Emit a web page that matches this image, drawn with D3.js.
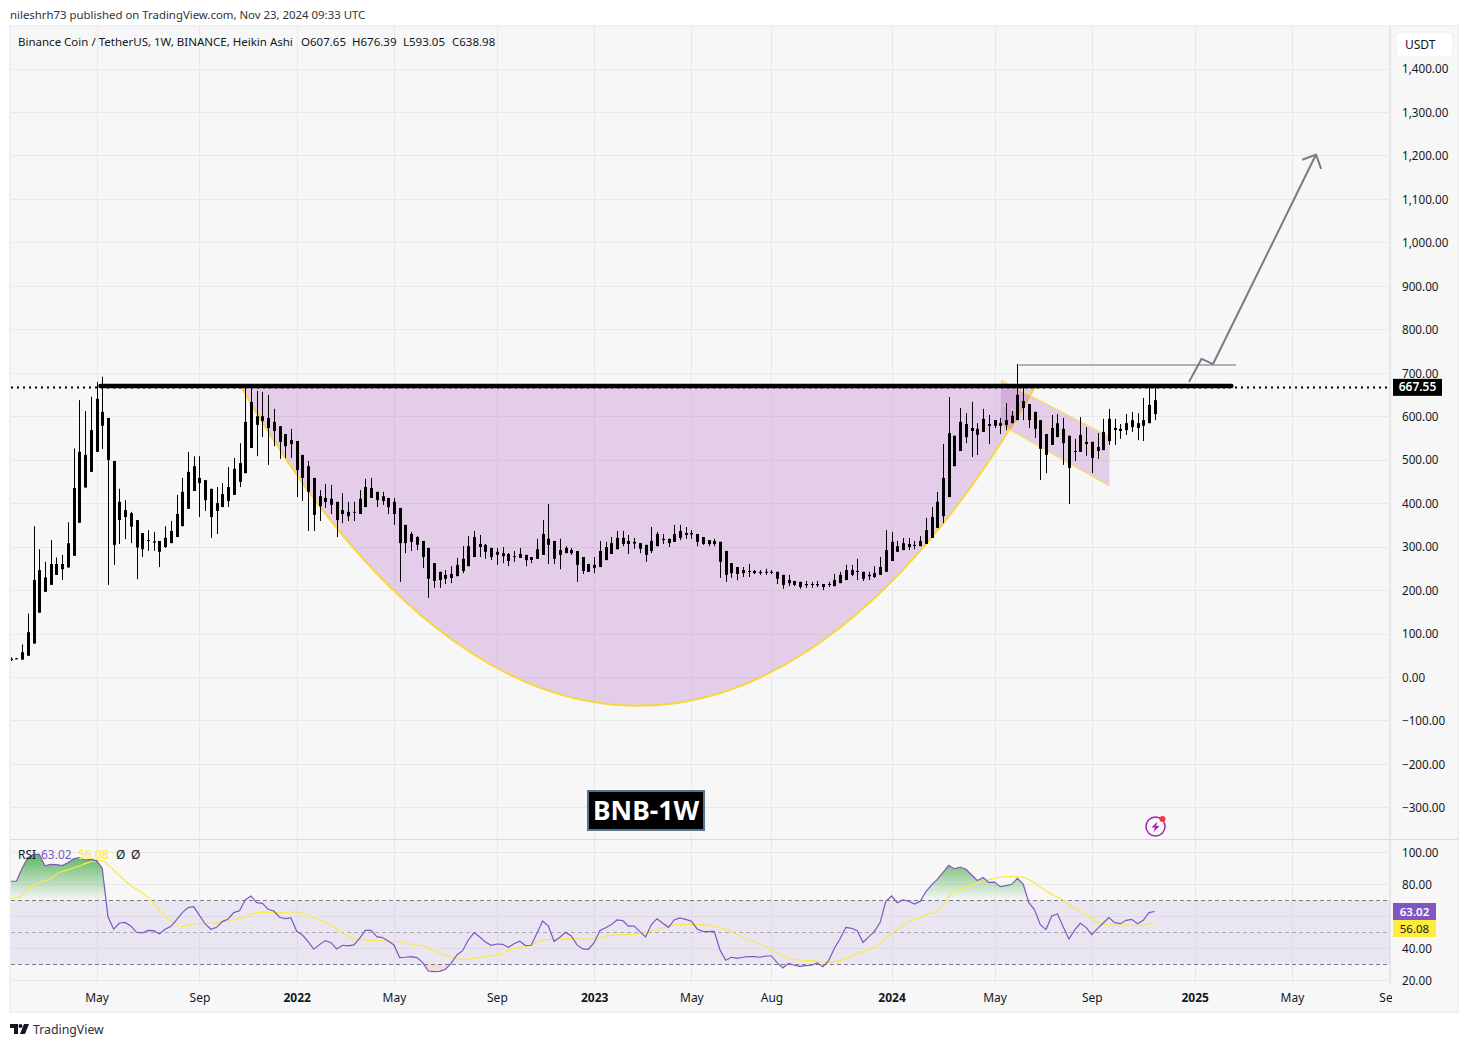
<!DOCTYPE html>
<html>
<head>
<meta charset="utf-8">
<script src="https://cdn.jsdelivr.net/npm/d3@7"></script>
<style>
  html, body { margin: 0; padding: 0; background: #fff; }
  svg { display: block; font-family: "Noto Sans", sans-serif; }
</style>
</head>
<body>
<div id="chart"></div>
<script>
// BNB/USDT weekly Heikin Ashi candles

const highs = [45,44,75,146,347,294,265,315,275,281,
  356,526,637,612,645,679,691,596,497,433,
  407,380,361,331,338,334,313,347,359,419,
  458,518,508,508,453,433,437,446,483,504,
  538,665,664,658,656,649,617,577,559,571,
  543,511,497,458,430,444,442,403,423,403,
  403,430,456,458,426,426,412,412,389,350,
  334,324,313,297,262,242,246,255,274,301,
  324,336,327,306,297,297,299,285,290,297,
  281,276,318,361,398,313,318,301,297,290,
  276,260,276,313,311,322,336,336,327,320,
  308,304,345,334,329,318,350,350,345,338,
  329,322,315,318,311,290,262,253,253,260,
  246,246,249,246,242,235,235,221,219,221,
  219,221,214,219,237,242,258,258,272,242,
  242,255,276,338,334,313,320,320,313,324,
  366,391,426,536,644,555,619,607,633,584,
  617,603,591,596,630,612,720,674,628,610,
  591,559,603,605,596,555,548,598,575,541,
  561,594,617,594,582,605,610,607,642,665,674];

const bodyTops = [42,43,57,103,223,246,229,260,260,260,
  308,435,518,511,568,640,610,596,497,403,
  384,377,361,331,315,312,313,320,336,375,
  426,472,485,458,453,433,400,421,437,479,
  492,587,633,600,600,596,587,577,559,545,
  543,511,485,458,416,412,410,403,384,380,
  380,410,437,435,426,416,412,403,389,350,
  329,322,313,297,262,242,235,237,258,272,
  301,322,306,304,297,288,285,283,278,283,
  281,276,294,329,318,313,292,297,292,290,
  276,260,258,290,299,308,320,320,313,311,
  308,304,313,329,318,318,329,336,331,331,
  329,322,315,313,311,290,262,253,246,244,
  244,242,242,242,242,235,223,221,219,214,
  214,214,214,214,223,235,246,246,244,242,
  235,239,253,292,311,301,308,306,304,313,
  338,368,403,458,561,555,587,582,573,571,
  594,582,591,584,591,601,649,635,628,610,
  591,559,573,584,571,555,520,557,541,541,
  529,564,594,573,571,584,591,584,591,626,637];

const bodyBottoms = [39,41,40,49,77,148,196,212,235,248,
  252,279,355,436,472,518,578,499,304,361,
  368,346,298,294,313,309,288,299,308,322,
  347,387,428,446,407,368,382,391,405,419,
  449,469,527,580,589,573,566,541,531,536,
  476,458,426,373,393,403,396,361,375,370,
  379,375,391,412,407,405,391,375,308,308,
  311,304,276,226,221,223,226,228,232,244,
  255,276,299,288,276,281,278,267,277,274,
  269,269,272,281,304,272,281,285,285,258,
  244,242,251,253,269,283,294,306,306,307,
  295,281,290,301,315,308,311,320,327,328,
  311,306,306,306,265,235,239,237,239,242,
  239,239,241,241,226,212,216,212,207,211,
  212,211,207,212,209,216,223,235,242,226,
  232,230,235,242,267,288,292,299,302,301,
  306,320,343,370,414,485,520,552,566,557,
  564,578,578,578,580,584,591,619,591,571,
  525,511,534,552,538,481,518,518,536,504,
  520,522,543,568,566,568,575,573,578,584,605];

const lows = [37,41,40,49,77,148,196,212,235,223,
  252,279,355,436,472,518,525,212,258,306,
  317,308,225,276,290,290,253,297,308,322,
  347,387,428,368,382,320,329,391,391,419,
  437,469,527,508,552,488,531,502,504,504,
  414,405,336,336,359,389,375,322,354,359,
  359,375,391,412,391,396,375,350,219,285,
  290,292,251,182,205,205,214,216,232,239,
  255,276,276,272,269,258,262,255,265,274,
  255,262,272,281,260,260,248,285,281,219,
  237,242,239,253,269,283,294,301,283,295,
  285,265,285,301,306,299,311,315,318,318,
  301,304,301,301,228,219,228,223,230,230,
  237,235,235,237,214,203,209,209,203,205,
  205,207,200,207,209,216,223,232,223,221,
  223,228,235,242,267,288,292,292,294,301,
  306,320,343,354,414,485,520,538,506,511,
  564,536,573,559,568,584,591,591,573,550,
  453,469,534,552,488,398,497,518,509,469,
  502,522,534,534,548,557,564,545,543,584,591];

// RSI, one value per bar
const rsiValues = [81.9,81.9,90,96.7,98.7,98.7,91.5,92.5,92.3,91.7,
  93.5,96,96.7,95.2,95.6,94.8,90,59.8,51.9,55.8,
  56.2,53.9,50,49.6,51.2,51,49,51.9,53.7,57.7,
  62.3,65.4,66,60.6,55.2,51.9,53.1,56.7,58.3,62.3,
  63.5,70.2,72.7,68.5,68.1,64.4,63.3,59.4,58.5,59,
  50.6,48.3,44.2,39.4,42.3,44.8,43.5,39.6,41.9,41.5,
  42.1,46.2,51.2,51.2,47.3,46.7,44.6,42.1,34.2,34.4,
  34.8,34.2,31.2,25.8,25.4,25.6,26.9,30.6,35.8,38.5,
  45.2,49.8,47.1,44,41.9,42.7,42.5,40.6,42.9,44.4,
  41.7,41.9,49.4,57.1,53.9,44.2,46.9,50,47.7,42.1,
  39.6,39.4,43.5,51,52.9,54.8,57.7,57.3,53.9,53.9,
  50.4,47.1,54.8,58.5,55.6,53.1,57.7,59,58.1,56.9,
  52.1,50.6,50.4,50.6,39,32.5,34.4,33.7,34.4,34.8,
  34.8,34.4,35.2,35.2,31,27.7,30.6,29.4,28.7,29.2,
  29.4,30.8,28.5,32.3,40,46,53.1,52.5,51,43.7,
  47.1,50.4,56.2,69.4,72.7,68.5,70.2,69.4,67.7,69.4,
  75.4,79.6,83.1,87.5,91.9,89.6,90.8,89.4,85.8,82.3,
  84.2,81.2,81.4,78.5,79.2,80,83.7,80.2,68.5,64,
  54.8,51.7,60.2,61.5,53.5,45.8,51.4,55.6,53.1,48.5,
  52.3,55.8,59.2,56,55.4,57.5,58.1,55.4,57.5,62.3,63.02];

// RSI moving average, read at these bars only
const maBars = [0,2,3,5,7,8,10,12,13,15,16,17,19,21,24,26,28,30,31,33,35,37,39,41,43,45,48,50,52,53,
  56,58,60,63,65,67,70,72,74,77,79,80,83,86,87,89,91,93,95,98,100,102,105,108,111,114,117,120,123,125,
  128,132,134,137,140,143,145,148,151,154,157,160,163,164,166,168,170,172,174,176,178,180,182,184,186,188,190,193,195,197,200];
const maValues = [71,72.7,76.9,81,83.7,86.5,89,91.4,92.9,94.8,94.8,92.1,85.4,79.2,71.9,64,57.1,53.5,54.6,55.6,55.6,56.7,57.7,59.8,62.3,62.5,62.5,62.7,61,59,
  54.4,49.4,46.2,45,44.6,44.4,42.7,41.5,38.5,34.4,33.1,33.3,35,36.7,38.7,40.6,42.3,45.2,45.6,46,45.8,45.8,48.3,48.5,49.8,52.7,55,55,53.7,51.9,
  46.9,41,36.9,32.9,32.3,31.2,32.3,36.5,40.6,49,56.4,60.6,66.7,72.3,77,79.6,81.7,83.7,84.8,84.8,83.1,78.1,73.7,70.2,64.8,61.5,56.2,54.4,54.6,54.2,56.08];

// time axis
const timeBars = [15,33,50,67,85,102,119,133,154,172,189,207,224,241];
const timeLabels = ["May","Sep","2022","May","Sep","2023","May","Aug","2024","May","Sep","2025","May","Sep"];
const priceTicks = [-300,-200,-100,0,100,200,300,400,500,600,700,800,900,1000,1100,1200,1300,1400];
const rsiGrid = [20,40,60,80,100];
// 60 sits behind the value labels, so it gets a grid line but no text
const rsiTicks = [20,40,80,100];

// drawings, in [bar, price]
const cupArc = [[40.3,667.55],[83,-310.6],[136.3,-310.6],[179.1,667.55]];
const flagTop = [[173.1,683],[192.1,552]];
const flagBottom = [[173.1,580],[192.1,439.5]];
const flagMiddle = [[173.1,630],[192.1,496]];
const resistance = [[15.7,669.5],[213.4,669.5]];
const breakoutLine = [[176.2,718],[214.2,718]];
const arrowPath = [[206,679],[208.2,732],[210.2,720],[228.2,1202]];
const arrowHead = [[225.8,1190],[228.2,1202],[229.1,1169]];

const lastPrice = 667.55;
const lastRsi = 63.02;
const lastMa = 56.08;

const width = 1468;
const height = 1047;
const font = '"Noto Sans", sans-serif';

const svg = d3.select("#chart").append("svg")
  .attr("width", width)
  .attr("height", height)
  .attr("viewBox", [0, 0, width, height]);

const x = d3.scaleLinear().domain([0, 200]).range([10.7, 1154.7]);
const y = d3.scaleLinear().domain([-300, 1400]).range([807.4, 68.5]);
const yRsi = d3.scaleLinear().domain([20, 100]).range([980.3, 852.3]);

const paneLeft = 11, paneRight = 1390, mainTop = 27, mainBottom = 839, rsiBottom = 984;

// background and frame
svg.append("rect").attr("x", 10).attr("y", 26).attr("width", 1448).attr("height", 986)
  .attr("fill", "#f7f7f7").attr("stroke", "#eff0f4").attr("stroke-width", 2);

const defs = svg.append("defs");
defs.append("clipPath").attr("id", "clip-main").append("rect")
  .attr("x", paneLeft).attr("y", mainTop).attr("width", paneRight - paneLeft).attr("height", mainBottom - mainTop);
defs.append("clipPath").attr("id", "clip-over").append("rect")
  .attr("x", paneLeft).attr("y", yRsi(100)).attr("width", paneRight - paneLeft).attr("height", yRsi(70) - yRsi(100));
defs.append("clipPath").attr("id", "clip-under").append("rect")
  .attr("x", paneLeft).attr("y", yRsi(30)).attr("width", paneRight - paneLeft).attr("height", yRsi(20) - yRsi(30));
defs.append("clipPath").attr("id", "clip-time").append("rect")
  .attr("x", 0).attr("y", rsiBottom).attr("width", 1392).attr("height", 30);

const greenGrad = defs.append("linearGradient").attr("id", "green-fill")
  .attr("gradientUnits", "userSpaceOnUse")
  .attr("x1", 0).attr("x2", 0).attr("y1", yRsi(100)).attr("y2", yRsi(70));
greenGrad.append("stop").attr("offset", 0).attr("stop-color", "#4caf50").attr("stop-opacity", 0.95);
greenGrad.append("stop").attr("offset", 1).attr("stop-color", "#4caf50").attr("stop-opacity", 0);

// grid
const grid = svg.append("g").attr("stroke", "#e9e9ea").attr("stroke-width", 1);
timeBars.forEach(b => {
  grid.append("line").attr("x1", Math.round(x(b)) + 0.5).attr("x2", Math.round(x(b)) + 0.5)
    .attr("y1", mainTop).attr("y2", rsiBottom);
});
priceTicks.forEach(v => {
  grid.append("line").attr("x1", paneLeft).attr("x2", paneRight)
    .attr("y1", Math.round(y(v)) + 0.5).attr("y2", Math.round(y(v)) + 0.5);
});
rsiGrid.forEach(v => {
  grid.append("line").attr("x1", paneLeft).attr("x2", paneRight)
    .attr("y1", Math.round(yRsi(v)) + 0.5).attr("y2", Math.round(yRsi(v)) + 0.5);
});

// main pane
const main = svg.append("g").attr("clip-path", "url(#clip-main)");
const pt = d => [x(d[0]), y(d[1])];

// cup
const cup = d3.path();
cup.moveTo(...pt(cupArc[0]));
cup.bezierCurveTo(...pt(cupArc[1]), ...pt(cupArc[2]), ...pt(cupArc[3]));
main.append("path").attr("d", cup.toString() + "Z")
  .attr("fill", "#9c27b0").attr("fill-opacity", 0.2);
main.append("path").attr("d", cup.toString())
  .attr("fill", "none").attr("stroke", "#f7d63e").attr("stroke-width", 2);

// flag
const flagCorners = [flagTop[0], flagTop[1], flagBottom[1], flagBottom[0]].map(pt);
main.append("polygon").attr("points", flagCorners.join(" "))
  .attr("fill", "#9c27b0").attr("fill-opacity", 0.2);
const segment = d3.line().x(d => x(d[0])).y(d => y(d[1]));
[flagTop, flagBottom].forEach(seg => {
  main.append("path").attr("d", segment(seg)).attr("fill", "none")
    .attr("stroke", "#fbe04a").attr("stroke-width", 1.2);
});
main.append("path").attr("d", segment(flagMiddle)).attr("fill", "none")
  .attr("stroke", "#fbe04a").attr("stroke-width", 1).attr("stroke-dasharray", "6 5");

// candles
const bars = highs.map((h, i) => ({ i, h, top: bodyTops[i], bottom: bodyBottoms[i], l: lows[i] }));
const candles = main.append("g").selectAll("g").data(bars).join("g");
candles.append("rect")
  .attr("x", d => Math.round(x(d.i)))
  .attr("y", d => y(d.h))
  .attr("width", 1)
  .attr("height", d => y(d.l) - y(d.h))
  .attr("fill", "#000");
candles.append("rect")
  .attr("x", d => Math.round(x(d.i)) - 1)
  .attr("y", d => y(d.top))
  .attr("width", 3)
  .attr("height", d => Math.max(1, y(d.bottom) - y(d.top)))
  .attr("fill", "#000");

// last price dotted line
main.append("line").attr("x1", paneLeft).attr("x2", paneRight)
  .attr("y1", Math.round(y(lastPrice)) + 0.5).attr("y2", Math.round(y(lastPrice)) + 0.5)
  .attr("stroke", "#000").attr("stroke-width", 2).attr("stroke-dasharray", "2 4");

// resistance and target drawings
main.append("path").attr("d", segment(resistance)).attr("fill", "none")
  .attr("stroke", "#000").attr("stroke-width", 4.5).attr("stroke-linecap", "round");
main.append("path").attr("d", segment(breakoutLine)).attr("fill", "none")
  .attr("stroke", "#9598a1").attr("stroke-width", 1.5);
[arrowPath, arrowHead].forEach(seg => {
  main.append("path").attr("d", segment(seg)).attr("fill", "none")
    .attr("stroke", "#787b86").attr("stroke-width", 2).attr("stroke-linejoin", "round");
});

// BNB-1W tag
const tag = svg.append("g");
tag.append("rect").attr("x", 588).attr("y", 791).attr("width", 116).attr("height", 39)
  .attr("fill", "#000").attr("stroke", "#5d7286").attr("stroke-width", 2);
tag.append("text").attr("x", 646).attr("y", 820).attr("text-anchor", "middle")
  .attr("font-size", 26.5).attr("font-weight", 700).attr("fill", "#fff")
  .attr("font-family", font).text("BNB-1W");

// bolt icon
const icon = svg.append("g").attr("transform", "translate(1155.5,826.5)");
icon.append("circle").attr("r", 9.5).attr("fill", "none").attr("stroke", "#9c27b0").attr("stroke-width", 1.5);
icon.append("path").attr("d", "M2,-5 L-4,1 L-0.5,1 L-2,5.5 L4,-0.5 L0.5,-0.5 Z").attr("fill", "#9c27b0");
icon.append("circle").attr("cx", 7).attr("cy", -7.5).attr("r", 3).attr("fill", "#f23645");

// RSI pane
svg.append("rect").attr("x", paneLeft).attr("width", paneRight - paneLeft)
  .attr("y", yRsi(70)).attr("height", yRsi(30) - yRsi(70))
  .attr("fill", "#7e57c2").attr("fill-opacity", 0.1);

const rsiBars = rsiValues.map((v, i) => ({ i, v }));
const overFill = d3.area().x(d => x(d.i)).y0(yRsi(70)).y1(d => yRsi(d.v));
svg.append("path").datum(rsiBars).attr("clip-path", "url(#clip-over)")
  .attr("d", overFill).attr("fill", "url(#green-fill)");
const underFill = d3.area().x(d => x(d.i)).y0(yRsi(30)).y1(d => yRsi(d.v));
svg.append("path").datum(rsiBars).attr("clip-path", "url(#clip-under)")
  .attr("d", underFill).attr("fill", "#f23645").attr("fill-opacity", 0.15);

[[70, "#787b86"], [50, "#a9abb3"], [30, "#787b86"]].forEach(([v, c]) => {
  svg.append("line").attr("x1", paneLeft).attr("x2", paneRight)
    .attr("y1", Math.round(yRsi(v)) + 0.5).attr("y2", Math.round(yRsi(v)) + 0.5)
    .attr("stroke", c).attr("stroke-dasharray", "4 3");
});

const maLine = d3.line().x((d, i) => x(maBars[i])).y(d => yRsi(d)).curve(d3.curveMonotoneX);
svg.append("path").datum(maValues).attr("d", maLine)
  .attr("fill", "none").attr("stroke", "#fbe84a").attr("stroke-width", 1.2);
const rsiLine = d3.line().x(d => x(d.i)).y(d => yRsi(d.v));
svg.append("path").datum(rsiBars).attr("d", rsiLine)
  .attr("fill", "none").attr("stroke", "#7e57c2").attr("stroke-width", 1.2);

// pane separators
svg.append("line").attr("x1", 10).attr("x2", 1458).attr("y1", 839.5).attr("y2", 839.5).attr("stroke", "#d9dbe2");
svg.append("line").attr("x1", 1390.5).attr("x2", 1390.5).attr("y1", 27).attr("y2", rsiBottom).attr("stroke", "#e3e4e8");

// axes
const priceAxis = d3.axisRight(y).tickValues(priceTicks).tickSize(0).tickPadding(12)
  .tickFormat(d3.format(",.2f"));
const priceG = svg.append("g").attr("transform", "translate(1390,0.5)").call(priceAxis);
const rsiAxis = d3.axisRight(yRsi).tickValues(rsiTicks).tickSize(0).tickPadding(12)
  .tickFormat(d3.format(".2f"));
const rsiG = svg.append("g").attr("transform", "translate(1390,0)").call(rsiAxis);
[priceG, rsiG].forEach(g => {
  g.select(".domain").remove();
  g.selectAll("text").attr("font-size", 11.7).attr("fill", "#131722").attr("font-family", font);
});

const timeAxis = d3.axisBottom(x).tickValues(timeBars).tickSize(0).tickPadding(0)
  .tickFormat((d, i) => timeLabels[i]);
const timeG = svg.append("g").attr("clip-path", "url(#clip-time)")
  .append("g").attr("transform", "translate(0,993)").call(timeAxis);
timeG.select(".domain").remove();
timeG.selectAll("text").attr("font-size", 12).attr("fill", "#131722").attr("font-family", font)
  .attr("font-weight", (d, i) => /^\d/.test(timeLabels[i]) ? 700 : 400);

// value labels on the right
svg.append("rect").attr("x", 1393).attr("y", y(lastPrice) - 8).attr("width", 49).attr("height", 17).attr("fill", "#000");
svg.append("text").attr("x", 1417.5).attr("y", y(lastPrice) + 4.5).attr("text-anchor", "middle")
  .attr("font-size", 12).attr("font-weight", 600).attr("fill", "#fff").attr("font-family", font)
  .text(d3.format(".2f")(lastPrice));

const rsiLabels = [[lastRsi, 903, "#7e57c2", "#fff", 600], [lastMa, 920, "#ffeb3b", "#131722", 400]];
rsiLabels.forEach(([v, top, bg, fg, weight]) => {
  svg.append("rect").attr("x", 1393).attr("y", top).attr("width", 43).attr("height", 17).attr("fill", bg);
  svg.append("text").attr("x", 1414.5).attr("y", top + 12.5).attr("text-anchor", "middle")
    .attr("font-size", 11.5).attr("font-weight", weight).attr("fill", fg).attr("font-family", font)
    .text(d3.format(".2f")(v));
});

// USDT box
svg.append("rect").attr("x", 1396).attr("y", 32).attr("width", 57).attr("height", 25).attr("rx", 4)
  .attr("fill", "#fff").attr("stroke", "#eceef2");
svg.append("text").attr("x", 1405).attr("y", 49).attr("font-size", 12).attr("fill", "#131722")
  .attr("font-family", font).text("USDT");

// text rows
const label = (tx, ty, text, fill, size) => svg.append("text").attr("x", tx).attr("y", ty)
  .attr("font-size", size || 12).attr("fill", fill || "#131722").attr("font-family", font).text(text);

label(10, 19, "nileshrh73 published on TradingView.com, Nov 23, 2024 09:33 UTC", "#333", 11.4);
label(18, 46, "Binance Coin / TetherUS, 1W, BINANCE, Heikin Ashi", "#131722", 11.5);
label(301, 46, "O607.65", "#131722", 11.5);
label(352, 46, "H676.39", "#131722", 11.5);
label(403, 46, "L593.05", "#131722", 11.5);
label(452, 46, "C638.98", "#131722", 11.5);

label(18, 859, "RSI");
label(41, 859, d3.format(".2f")(lastRsi), "#7e57c2");
label(78, 859, d3.format(".2f")(lastMa), "#ffeb3b");
label(116, 859, "Ø");
label(131, 859, "Ø");

// TradingView mark
const logo = svg.append("g").attr("fill", "#131722");
logo.append("path").attr("d", "M10,1024 H18 V1034 H14 V1028 H10 Z");
logo.append("circle").attr("cx", 20.5).attr("cy", 1026).attr("r", 2);
logo.append("path").attr("d", "M24,1024 H29 L25,1034 H20 Z");
label(33, 1034, "TradingView", "#2a2e39", 12.3);
</script>
</body>
</html>
